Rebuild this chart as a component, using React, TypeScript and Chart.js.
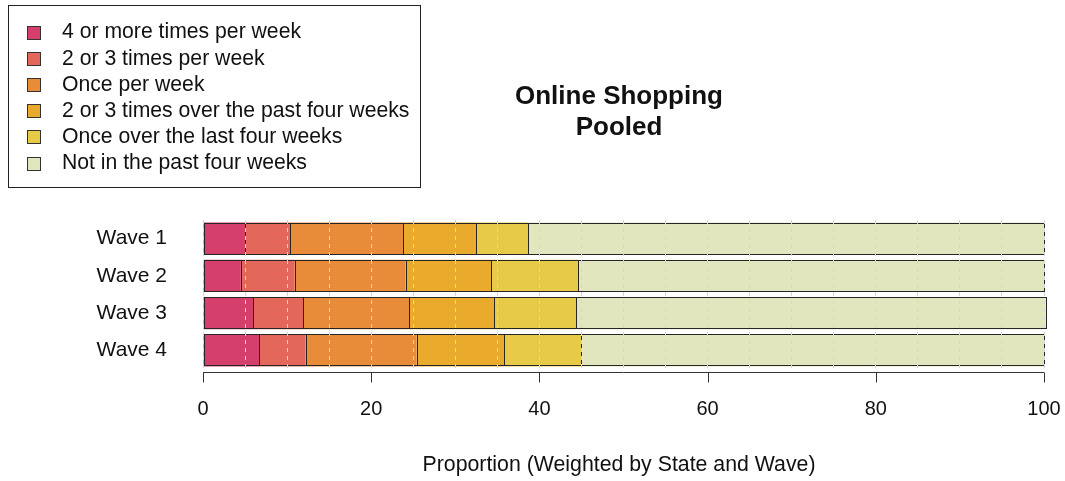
import React, { useEffect, useRef } from "react";
import { Chart, registerables } from "chart.js";

Chart.register(...registerables);

const waves = ["Wave 1", "Wave 2", "Wave 3", "Wave 4"];
const categories = [
  "4 or more times per week",
  "2 or 3 times per week",
  "Once per week",
  "2 or 3 times over the past four weeks",
  "Once over the last four weeks",
  "Not in the past four weeks",
];
const colors = ["#D43F6C", "#E3685A", "#E88C3A", "#EAAA2B", "#E7CA47", "#E1E6BF"];

const fourPlusWeek = [5.0, 4.5, 6.0, 6.7];
const twoThreeWeek = [5.4, 6.4, 5.9, 5.5];
const oncePerWeek = [13.4, 13.2, 12.6, 13.2];
const twoThreeFourWeeks = [8.7, 10.2, 10.1, 10.4];
const onceFourWeeks = [6.2, 10.3, 9.8, 9.2];
const notInFourWeeks = [61.3, 55.4, 55.8, 55.0];

const xTickLabels = [0, 20, 40, 60, 80, 100];
const titleLines = ["Online Shopping", "Pooled"];
const xTitle = "Proportion (Weighted by State and Wave)";

const FONT = "'Liberation Sans', Arial, sans-serif";

export default function App() {
  const ref = useRef<HTMLCanvasElement | null>(null);

  useEffect(() => {
    document.body.style.margin = "0";
    const canvas = ref.current;
    if (!canvas) return;
    const series = [fourPlusWeek, twoThreeWeek, oncePerWeek, twoThreeFourWeeks, onceFourWeeks, notInFourWeeks];

    const outlines = {
      id: "outlines",
      afterDatasetsDraw(chart: any) {
        const ctx = chart.ctx as CanvasRenderingContext2D;
        ctx.save();
        ctx.strokeStyle = "#262626";
        ctx.lineWidth = 1;
        chart.data.datasets.forEach((_: any, di: number) => {
          const meta = chart.getDatasetMeta(di);
          meta.data.forEach((el: any) => {
            const p = el.getProps(["x", "y", "base", "height"], true);
            const x1 = Math.round(Math.min(p.x, p.base)) + 0.5;
            const x2 = Math.round(Math.max(p.x, p.base)) + 0.5;
            const y1 = Math.round(p.y - p.height / 2) + 0.5;
            const y2 = Math.round(p.y + p.height / 2) - 0.5;
            ctx.strokeRect(x1, y1, x2 - x1, y2 - y1);
          });
        });
        ctx.restore();
      },
    };

    const decorations = {
      id: "decorations",
      afterDraw(chart: any) {
        const ctx = chart.ctx as CanvasRenderingContext2D;
        const xs = chart.scales.x;
        const area = chart.chartArea;
        ctx.save();
        // axis line and tick marks
        ctx.strokeStyle = "#333";
        ctx.lineWidth = 1;
        const axY = Math.round(area.bottom) + 3.5;
        ctx.beginPath();
        ctx.moveTo(xs.getPixelForValue(0), axY);
        ctx.lineTo(xs.getPixelForValue(100), axY);
        xTickLabels.forEach((v) => {
          const px = Math.round(xs.getPixelForValue(v)) + 0.5;
          ctx.moveTo(px, axY);
          ctx.lineTo(px, axY + 10);
        });
        ctx.stroke();

        // title
        ctx.fillStyle = "#111";
        ctx.textAlign = "center";
        ctx.textBaseline = "middle";
        ctx.font = `bold 26px ${FONT}`;
        const cx = 619;
        ctx.fillText(titleLines[0], cx, 97);
        ctx.fillText(titleLines[1], cx, 128);

        // x axis title
        ctx.font = `21.3px ${FONT}`;
        ctx.fillText(xTitle, cx, 465);

        // legend
        ctx.strokeStyle = "#222";
        ctx.strokeRect(8.5, 5.5, 412, 182);
        ctx.textAlign = "left";
        ctx.font = `21.2px ${FONT}`;
        categories.forEach((c, i) => {
          const y = 32.5 + i * 26.2;
          ctx.fillStyle = colors[i];
          ctx.fillRect(27, Math.round(y - 7), 14, 14);
          ctx.strokeStyle = "#333";
          ctx.strokeRect(27.5, Math.round(y - 7) + 0.5, 13, 13);
          ctx.fillStyle = "#111";
          ctx.fillText(c, 62, y);
        });
        ctx.restore();
      },
    };

    const chart = new Chart(canvas, {
      type: "bar",
      data: {
        labels: waves,
        datasets: categories.map((c, i) => ({
          label: c,
          data: series[i],
          backgroundColor: colors[i],
          borderWidth: 0,
          barPercentage: 0.86,
          categoryPercentage: 1,
          clip: false as any,
        })),
      },
      options: {
        indexAxis: "y",
        animation: false,
        responsive: false,
        devicePixelRatio: 1,
        layout: { padding: { left: 0, right: 21, top: 220, bottom: 0 } },
        plugins: {
          legend: { display: false },
          tooltip: { enabled: false },
          title: { display: false },
        },
        scales: {
          x: {
            stacked: true,
            min: 0,
            max: 100,
            afterFit: (s: any) => {
              s.height = 112;
              s.paddingLeft = 0;
              s.paddingRight = 0;
            },
            grid: {
              color: "#d6d6d6",
              lineWidth: 1,
              drawTicks: false,
              z: 1,
            } as any,
            border: { display: false, dash: [4, 4] },
            ticks: {
              stepSize: 5,
              autoSkip: false,
              maxRotation: 0,
              padding: 28,
              color: "#111",
              font: { family: FONT, size: 20 },
              callback: (v: any) => (Number(v) % 20 === 0 ? String(v) : ""),
            },
          },
          y: {
            stacked: true,
            afterFit: (s: any) => {
              s.width = 203;
              s.paddingTop = 0;
              s.paddingBottom = 0;
            },
            grid: { display: false, drawTicks: false },
            border: { display: false },
            ticks: {
              padding: 36,
              color: "#111",
              font: { family: FONT, size: 21 },
            },
          },
        },
      },
      plugins: [outlines, decorations],
    });

    return () => chart.destroy();
  }, []);

  return <canvas ref={ref} width={1065} height={481} style={{ display: "block" }} />;
}
